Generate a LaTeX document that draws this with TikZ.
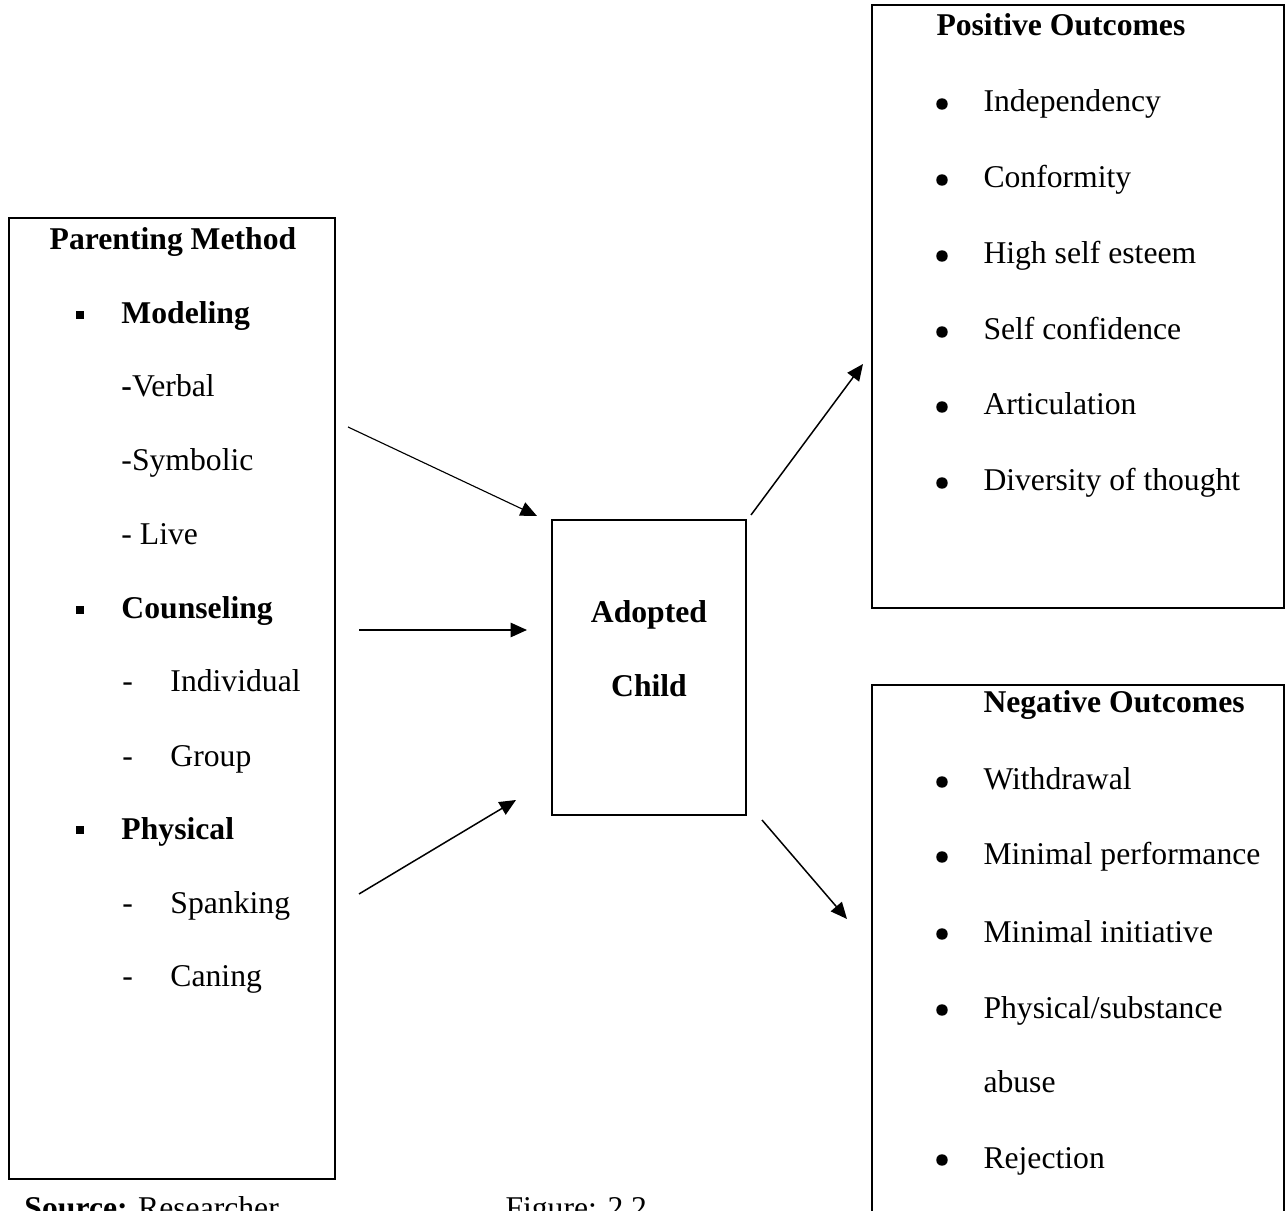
\documentclass[tikz,border=0pt]{standalone}
\usepackage{fontspec}
\setmainfont{Liberation Serif}
\usetikzlibrary{arrows.meta,fit}
\begin{document}
\begin{tikzpicture}[x=0.0141cm, y=-0.0141cm,
  box/.style={draw, line width=0.8pt, inner sep=0pt},
  txt/.style={font=\fontsize{12.7}{15}\selectfont, inner sep=0pt, anchor=base west},
  bold/.style={txt, font=\fontsize{12.7}{15}\selectfont\bfseries},
  dot/.style={txt, anchor=base},
  bullet/.style={circle, fill, inner sep=0pt, minimum size=4.6pt},
  link/.style={line width=0.6pt, -{Triangle[length=6.6pt, width=5.8pt]}}]
  \useasboundingbox (0,0) rectangle (1286,1211);
  \clip (0,0) rectangle (1286,1211);
  \node[box, fit={(9,218) (335,1179)}] (method) {};
  \node[box, fit={(552,520) (746,815)}] (child) {};
  \node[box, fit={(872,5) (1284,608)}] (positive) {};
  \node[box, fit={(872,685) (1284,1240)}] (negative) {};
  \node[bold, anchor=base] (methodhead) at (173,250) {Parenting Method};
  \node[dot] (sqa) at (80,324) {\rule[2.2pt]{2.9pt}{2.9pt}};
  \node[bold] (modeling) at (121,324) {Modeling};
  \node[txt] (verbal) at (121,397) {\textbf{-}Verbal};
  \node[txt] (symbolic) at (121,471) {-Symbolic};
  \node[txt] (live) at (121,545) {- Live};
  \node[dot] (sqb) at (80,619) {\rule[2.2pt]{2.9pt}{2.9pt}};
  \node[bold] (counseling) at (121,619) {Counseling};
  \node[dot] (sqc) at (80,839) {\rule[2.2pt]{2.9pt}{2.9pt}};
  \node[bold] (physical) at (121,839) {Physical};
  \foreach \y/\name/\label in {692/individual/Individual, 766/group/Group,
      913/spanking/Spanking, 987/caning/Caning} {
    \node[txt] (dash-\name) at (122,\y) {-};
    \node[txt] (\name) at (170,\y) {\label};
  }
  \node[bold, anchor=base] (adopted) at (649,623) {Adopted};
  \node[bold, anchor=base] (childtxt) at (649,697) {Child};
  \node[bold] (poshead) at (936,36) {Positive Outcomes};
  \foreach \y/\name/\label in {112/indep/Independency, 188/conform/Conformity,
      264/esteem/High self esteem, 340/confid/Self confidence,
      415/artic/Articulation, 491/divers/Diversity of thought} {
    \node[bullet] (dot-\name) at (942,\y-8) {};
    \node[txt] (\name) at (983,\y) {\label};
  }
  \node[bold] (neghead) at (983,713) {Negative Outcomes};
  \foreach \y/\name/\label in {790/withdr/Withdrawal, 865/perform/Minimal performance,
      942/initia/Minimal initiative, 1018/subst/{Physical/substance},
      1168/reject/Rejection} {
    \node[bullet] (dot-\name) at (942,\y-8) {};
    \node[txt] (\name) at (983,\y) {\label};
  }
  \node[txt] (abuse) at (983,1092) {abuse};
  \node[txt] (source) at (24,1218) {\textbf{Source:} Researcher};
  \node[txt] (figure) at (505,1218) {Figure: 2.2};
  \coordinate (in1) at (348,427);
  \coordinate (to1) at (537,516);
  \coordinate (in2) at (359,630);
  \coordinate (to2) at (527,630);
  \coordinate (in3) at (359,894);
  \coordinate (to3) at (516,800);
  \coordinate (out1) at (751,515);
  \coordinate (at1) at (863,364);
  \coordinate (out2) at (762,820);
  \coordinate (at2) at (847,919);
  \draw[link, line width=0.45pt] (in1) -- (to1);
  \draw[link] (in2) -- (to2);
  \draw[link] (in3) -- (to3);
  \draw[link] (out1) -- (at1);
  \draw[link] (out2) -- (at2);
\end{tikzpicture}
\end{document}
